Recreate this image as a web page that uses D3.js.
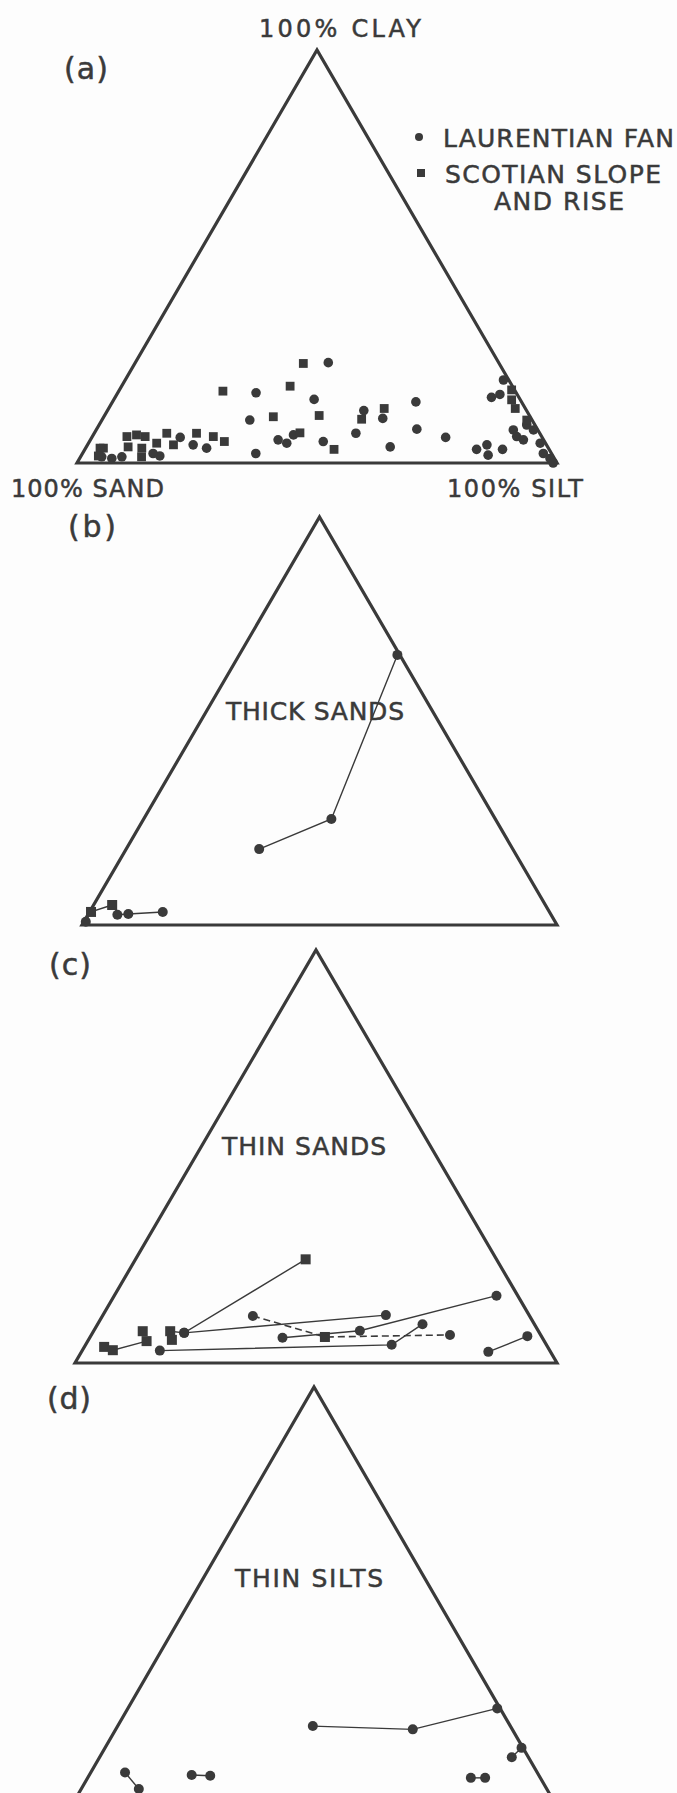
<!DOCTYPE html>
<html>
<head>
<meta charset="utf-8">
<script src="https://cdn.jsdelivr.net/npm/d3@7"></script>
<style>
  body { margin: 0; background: #fdfdfd; }
  svg { display: block; }
  text { font-family: "DejaVu Sans", sans-serif; fill: #3a3a3a; stroke: #3a3a3a; stroke-width: 0.5; }
</style>
</head>
<body>
<div id="chart"></div>
<script>
// every point is [sand, silt, clay] in percent, lines also carry a marker kind:
// 'F' = Laurentian Fan (circle), 'S' = Scotian Slope and Rise (square)
var cornerLabels = ['100% CLAY', '100% SAND', '100% SILT'];
var panelLabels = ['(a)', '(b)', '(c)', '(d)'];
var panelTitles = ['', 'THICK SANDS', 'THIN SANDS', 'THIN SILTS'];
var legendLabels = ['LAURENTIAN FAN', 'SCOTIAN SLOPE', 'AND RISE'];

// (a) all samples
var laurentianFan = [
    [35.5, 40.2, 24.3], [54.2, 28.8, 17.0], [42.9, 41.7, 15.4], [58.8, 30.8, 10.4],
    [33.9, 53.4, 12.7], [38.3, 54.5, 7.2], [55.3, 39.1, 5.6], [53.9, 41.3, 4.8],
    [51.5, 41.7, 6.8], [46.1, 48.7, 5.2], [61.6, 36.1, 2.3], [75.4, 18.4, 6.2],
    [73.6, 22.0, 4.4], [71.2, 25.2, 3.6], [81.9, 16.4, 1.7], [83.0, 14.7, 2.3],
    [94.1, 4.4, 1.5], [92.2, 6.7, 1.1], [89.9, 8.6, 1.5], [30.9, 58.3, 10.8],
    [22.0, 63.2, 14.8], [25.1, 66.7, 8.2], [32.8, 63.3, 3.9], [20.1, 73.7, 6.2],
    [15.1, 81.6, 3.3], [12.4, 83.2, 4.4], [13.4, 84.7, 1.9], [9.7, 87.0, 3.3],
    [5.7, 78.4, 15.9], [3.6, 79.8, 16.6], [1.1, 78.8, 20.1], [5.1, 86.9, 8.0],
    [5.2, 88.4, 6.4], [4.2, 90.2, 5.6], [1.7, 89.1, 9.2], [0.9, 91.1, 8.0],
    [1.1, 94.1, 4.8], [1.7, 96.0, 2.3], [0.9, 98.0, 1.1], [0.8, 99.2, 0.0]
];
var scotianSlope = [
    [40.8, 35.1, 24.1], [46.3, 35.1, 18.6], [60.9, 21.7, 17.4], [53.5, 35.3, 11.2],
    [43.8, 44.7, 11.5], [35.4, 54.0, 10.6], [49.9, 42.8, 7.3], [44.8, 51.9, 3.3],
    [71.5, 21.3, 7.2], [68.4, 25.2, 6.4], [66.7, 28.1, 5.2], [77.7, 15.1, 7.2],
    [77.7, 17.9, 4.4], [81.0, 14.2, 4.8], [84.2, 9.0, 6.8], [82.6, 11.0, 6.4],
    [86.4, 7.2, 6.4], [84.7, 11.7, 3.6], [87.4, 8.7, 3.9], [92.7, 3.7, 3.6],
    [85.8, 12.7, 1.5], [93.4, 3.0, 3.6], [94.7, 3.6, 1.7], [29.4, 57.4, 13.2],
    [0.6, 81.7, 17.7], [2.1, 84.7, 13.2], [1.8, 82.9, 15.3], [1.1, 88.5, 10.4]
];

// (b) thick sands, each list is one bed
var thickSands = [
    [[0.5, 33.3, 66.2, 'F'], [34.5, 39.5, 26.0, 'F'], [53.4, 28.0, 18.6, 'F']],
    [[91.3, 6.2, 2.5, 'F'], [88.9, 8.4, 2.7, 'F'], [81.4, 15.4, 3.2, 'F']],
    [[98.8, 0.4, 0.8, 'F'], [96.5, 0.3, 3.2, 'S'], [91.2, 3.9, 4.9, 'S']]
];
var thickSandsDashed = [];

// (c) thin sands
var thinSands = [
    [[76.4, 15.9, 7.7, 'S'], [73.7, 19.0, 7.3, 'F'], [39.6, 35.3, 25.1, 'S']],
    [[73.7, 19.0, 7.3, 'F'], [29.7, 58.7, 11.6, 'F']],
    [[92.0, 4.1, 3.9, 'S'], [90.6, 6.3, 3.1, 'S'], [82.5, 12.2, 5.3, 'S']],
    [[80.9, 16.1, 3.0, 'F'], [32.1, 63.5, 4.4, 'F'], [23.2, 67.4, 9.4, 'F']],
    [[53.9, 40.0, 6.1, 'F'], [37.0, 55.2, 7.8, 'F'], [4.4, 79.3, 16.3, 'F']],
    [[12.9, 84.4, 2.7, 'F'], [2.9, 90.6, 6.5, 'F']],
    [[82.1, 10.2, 7.7, 'S']],
    [[77.1, 17.3, 5.6, 'S']]
];
var thinSandsDashed = [
    [[57.4, 31.2, 11.4, 'F'], [45.0, 48.7, 6.3, 'S'], [18.8, 74.4, 6.8, 'F']]
];

// (d) thin silts
var thinSilts = [
    [[41.5, 41.0, 17.5, 'F'], [20.9, 62.4, 16.7, 'F'], [0.6, 77.6, 21.8, 'F']],
    [[0.3, 87.5, 12.2, 'F'], [3.5, 86.6, 9.9, 'F']],
    [[14.6, 80.5, 4.9, 'F'], [11.6, 83.5, 4.9, 'F']],
    [[86.6, 7.2, 6.2, 'F'], [85.7, 12.1, 2.2, 'F']],
    [[72.9, 21.5, 5.6, 'F'], [69.1, 25.5, 5.4, 'F']]
];
var thinSiltsDashed = [];

var width = 677, height = 1793, ink = '#3a3a3a';

var svg = d3.select('#chart').append('svg')
    .attr('width', width)
    .attr('height', height);
svg.append('rect').attr('width', width).attr('height', height).attr('fill', '#fdfdfd');

// where each triangle sits on the page
var panels = [
    {left: 77, right: 557, base: 463, top: 50, label: [64, 79, 44], title: null},
    {left: 82, right: 557, base: 925, top: 517, label: [68, 537, 48], title: [226, 720, 178]},
    {left: 75, right: 557, base: 1363, top: 950, label: [49, 975, 42], title: [222, 1155, 164]},
    {left: 76, right: 552, base: 1798, top: 1387, label: [47, 1409, 44], title: [235, 1587, 148]}
];
var panelLines = [null, [thickSands, thickSandsDashed], [thinSands, thinSandsDashed], [thinSilts, thinSiltsDashed]];

function label(txt, x0, yb, size, len) {
    svg.append('text')
        .attr('x', x0)
        .attr('y', yb)
        .attr('font-size', size)
        .attr('textLength', len)
        .attr('lengthAdjust', 'spacing')
        .text(txt);
}

function drawMarks(g, pts, px, py, r) {
    g.selectAll(null).data(pts.filter(d => d[3] === 'F')).enter().append('circle')
        .attr('cx', px).attr('cy', py).attr('r', r).attr('fill', ink);
    g.selectAll(null).data(pts.filter(d => d[3] === 'S')).enter().append('rect')
        .attr('x', d => px(d) - r).attr('y', d => py(d) - r)
        .attr('width', r * 2).attr('height', r * 2).attr('fill', ink);
}

panels.forEach(function(p, i) {
    var xScale = d3.scaleLinear().domain([0, 100]).range([p.left, p.right]);
    var yScale = d3.scaleLinear().domain([0, 100]).range([p.base, p.top]);
    var px = d => xScale(d[1] + d[2] / 2);
    var py = d => yScale(d[2]);
    var line = d3.line().x(px).y(py);
    var g = svg.append('g').attr('class', 'panel');

    g.append('path')
        .attr('d', line([[100, 0, 0], [0, 100, 0], [0, 0, 100]]) + 'Z')
        .attr('fill', 'none')
        .attr('stroke', ink)
        .attr('stroke-width', 3.2);

    label(panelLabels[i], p.label[0], p.label[1], 30, p.label[2]);
    if (p.title) label(panelTitles[i], p.title[0], p.title[1], 25, p.title[2]);

    if (i === 0) {
        drawMarks(g, laurentianFan.map(d => d.concat('F')), px, py, 4.8);
        drawMarks(g, scotianSlope.map(d => d.concat('S')), px, py, 4.4);
        return;
    }

    var solid = panelLines[i][0], dashed = panelLines[i][1];
    g.selectAll(null).data(solid).enter().append('path')
        .attr('d', line).attr('fill', 'none').attr('stroke', ink).attr('stroke-width', 1.4);
    g.selectAll(null).data(dashed).enter().append('path')
        .attr('d', line).attr('fill', 'none').attr('stroke', ink).attr('stroke-width', 1.6)
        .attr('stroke-dasharray', '7,4');
    drawMarks(g, d3.merge(solid.concat(dashed)), px, py, 5);
});

// corner labels and legend of panel (a)
label(cornerLabels[0], 259, 37, 24, 162);
label(cornerLabels[1], 11, 497, 24, 153);
label(cornerLabels[2], 447, 497, 24, 136);

svg.append('circle').attr('cx', 419).attr('cy', 137).attr('r', 4).attr('fill', ink);
svg.append('rect').attr('x', 417).attr('y', 169).attr('width', 8).attr('height', 8).attr('fill', ink);
label(legendLabels[0], 443, 147, 25, 231);
label(legendLabels[1], 445, 183, 25, 216);
label(legendLabels[2], 494, 210, 25, 130);
</script>
</body>
</html>
